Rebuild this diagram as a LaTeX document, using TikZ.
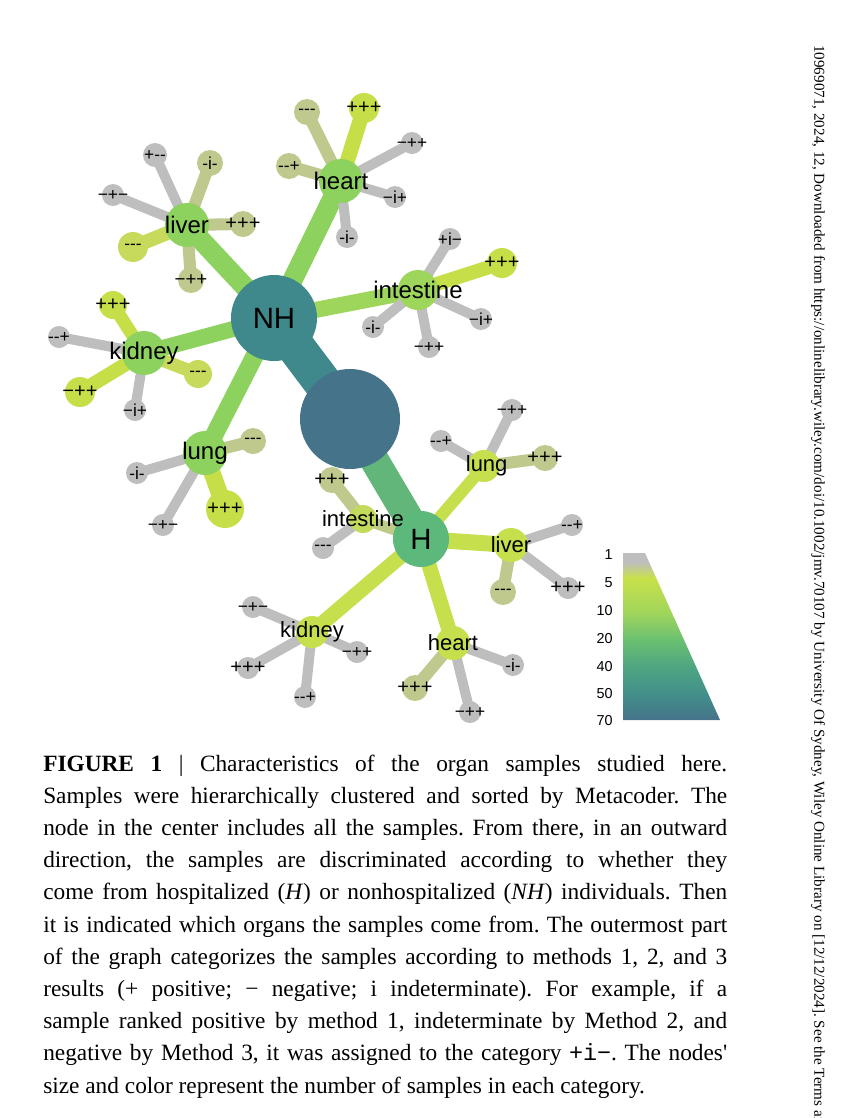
\documentclass[tikz,border=0pt]{standalone}
\usepackage{fontspec}
\setmainfont{Liberation Serif}
\setmonofont{Liberation Mono}
\newfontfamily\gfont{Liberation Sans}
\newfontfamily\capfont{Liberation Serif}
\usetikzlibrary{backgrounds}
\frenchspacing

\definecolor{cgray}{HTML}{BEBEBE}
\definecolor{ckhaki}{HTML}{C0C98D}
\definecolor{ckhakie}{HTML}{BDCA88}
\definecolor{cyg}{HTML}{C6DF48}
\definecolor{cyg2}{HTML}{C7DA5C}
\definecolor{corg}{HTML}{8DD15E}
\definecolor{cint}{HTML}{9ED65B}
\definecolor{chorg}{HTML}{C6E04D}
\definecolor{chint}{HTML}{C3DB5C}
\definecolor{cnh}{HTML}{3F898C}
\definecolor{ccenter}{HTML}{44738A}
\definecolor{ch}{HTML}{5DB87B}
\definecolor{cedgeH}{HTML}{62B67A}
\definecolor{lone}{HTML}{BEBEBE}
\definecolor{lfive}{HTML}{C8E04A}
\definecolor{lten}{HTML}{A0D55C}
\definecolor{ltwenty}{HTML}{6AC070}
\definecolor{lforty}{HTML}{4EA682}
\definecolor{lfifty}{HTML}{42908A}
\definecolor{lseventy}{HTML}{45738A}

\pgfdeclareverticalshading{legshade}{100bp}{color(0bp)=(lseventy); color(25bp)=(lseventy); color(33bp)=(lfifty); color(41bp)=(lforty); color(49bp)=(ltwenty); color(57bp)=(lten); color(67.5bp)=(lfive); color(72.3bp)=(lone); color(75bp)=(lone); color(100bp)=(lone)}

\newcommand\zl[1]{\makebox[0pt]{#1}}

\begin{document}
\begin{tikzpicture}[x=0.75pt,y=-0.75pt,
  blob/.style={circle,fill=#1,inner sep=0pt,text=black},
  link/.style={draw=#1,line cap=butt},
  bigfont/.style={font=\gfont\fontsize{22}{22}\selectfont},
  nhorg/.style={font=\gfont\fontsize{18}{18}\selectfont},
  horg/.style={font=\gfont\fontsize{16.5}{16.5}\selectfont},
  legnum/.style={font=\gfont\fontsize{10.8}{11}\selectfont,anchor=east,inner sep=0pt},
  capline/.style={anchor=base west,inner sep=0pt,font=\capfont\fontsize{17.5}{20}\selectfont}]
\useasboundingbox (0,0) rectangle (850,1118);
\begin{scope}[on background layer]
  \fill[white] (0,0) rectangle (850,1118);
\end{scope}

% root, NH, H
\node[blob=ccenter, minimum size=100*0.75pt] (root) at (350,419) {};
\node[blob=cnh, minimum size=86*0.75pt, bigfont] (NH) at (274,318) {\zl{NH}};
\node[blob=ch, minimum size=56*0.75pt, bigfont] (H) at (421,539) {\zl{H}};

% organs
\node[blob=corg, minimum size=44*0.75pt, nhorg] (nhheart) at (341,181) {\zl{heart}};
\node[blob=corg, minimum size=44*0.75pt, nhorg] (nhliver) at (187,225) {\zl{liver}};
\node[blob=cint, minimum size=40*0.75pt, nhorg] (nhint) at (418,290) {\zl{intestine}};
\node[blob=corg, minimum size=44*0.75pt, nhorg] (nhkid) at (144,353) {\zl{kidney}};
\node[blob=corg, minimum size=44*0.75pt, nhorg] (nhlung) at (205,453) {\zl{lung}};
\node[blob=chorg, minimum size=32*0.75pt, horg] (hlung) at (484,466) {\zl{\hspace{4pt}lung}};
\node[blob=chorg, minimum size=34*0.75pt, horg] (hliver) at (511,545) {\zl{liver}};
\node[blob=chint, minimum size=28*0.75pt, horg] (hint) at (363,519) {\zl{intestine}};
\node[blob=chorg, minimum size=32*0.75pt, horg] (hkid) at (312,632) {\zl{kidney}};
\node[blob=chorg, minimum size=34*0.75pt, horg] (hheart) at (453,643) {\zl{heart}};

\begin{scope}[on background layer]
  \draw[link=cnh, line width=38*0.75pt] (root.center) -- (NH.center);
  \draw[link=cedgeH, line width=29*0.75pt] (root.center) -- (H.center);
  \draw[link=corg, line width=20*0.75pt] (NH.center) -- (nhheart.center);
  \draw[link=corg, line width=20*0.75pt] (NH.center) -- (nhliver.center);
  \draw[link=cint, line width=16*0.75pt] (NH.center) -- (nhint.center);
  \draw[link=corg, line width=16*0.75pt] (NH.center) -- (nhkid.center);
  \draw[link=corg, line width=18*0.75pt] (NH.center) -- (nhlung.center);
  \draw[link=chorg, line width=12*0.75pt] (H.center) -- (hlung.center);
  \draw[link=chorg, line width=16*0.75pt] (H.center) -- (hliver.center);
  \draw[link=chorg, line width=15*0.75pt] (H.center) -- (hheart.center);
  \draw[link=chorg, line width=15*0.75pt] (H.center) -- (hkid.center);
  \draw[link=ckhakie, line width=11*0.75pt] (H.center) -- (hint.center);
\end{scope}

% leaves
\foreach \nm/\pa/\xx/\yy/\dd/\cc/\ww/\tx/\fs in {
 a1/nhheart/307/112/26/ckhaki/12/-{}-{}-/13,
 a2/nhheart/364/108/30/cyg/15/+++/15,
 a3/nhheart/412/143/22/cgray/10/−++/13,
 a4/nhheart/289/166/26/ckhaki/12/-{}-+/13,
 a5/nhheart/395/197/22/cgray/10/−i+/13,
 a6/nhheart/347/237/22/cgray/10/-i-/13,
 b1/nhliver/155/155/24/cgray/10/+-{}-/13,
 b2/nhliver/210/163/26/ckhaki/12/-i-/13,
 b3/nhliver/113/195/22/cgray/10/−+−/13,
 b4/nhliver/243/224/26/ckhaki/12/+++/15,
 b5/nhliver/133/247/30/cyg2/14/-{}-{}-/13,
 b6/nhliver/191/280/26/ckhaki/12/−++/14,
 c1/nhint/450/239/22/cgray/10/+i−/13,
 c2/nhint/502/263/30/cyg/14/+++/15,
 c3/nhint/481/319/22/cgray/10/−i+/13,
 c4/nhint/429/347/22/cgray/10/−++/13,
 c5/nhint/373/327/22/cgray/10/-i-/13,
 d1/nhkid/113/305/28/cyg/13/+++/15,
 d2/nhkid/59/337/22/cgray/10/-{}-+/13,
 d3/nhkid/198/374/28/cyg2/13/-{}-{}-/13,
 d4/nhkid/80/392/30/cyg/14/−++/15,
 d5/nhkid/135/410/22/cgray/10/−i+/13,
 e1/nhlung/253/441/26/ckhaki/12/-{}-{}-/13,
 e2/nhlung/137/473/22/cgray/10/-i-/13,
 e3/nhlung/225/509/38/cyg/17/+++/15,
 e4/nhlung/163/525/22/cgray/10/−+−/13,
 f1/hlung/512/410/22/cgray/10/−++/13,
 f2/hlung/441/441/22/cgray/10/-{}-+/13,
 f3/hlung/545/458/26/ckhaki/12/+++/15,
 g1/hliver/572/525/22/cgray/10/-{}-+/13,
 g2/hliver/568/588/22/cgray/10/+++/15,
 g3/hliver/503/592/26/ckhaki/12/-{}-{}-/13,
 i1/hint/332/480/26/ckhaki/12/+++/15,
 i2/hint/323/548/22/cgray/10/-{}-{}-/13,
 k1/hkid/253/607/22/cgray/10/−+−/13,
 k2/hkid/248/668/22/cgray/10/+++/15,
 k3/hkid/305/697/22/cgray/10/-{}-+/13,
 k4/hkid/357/652/22/cgray/10/−++/13,
 j1/hheart/415/688/26/ckhaki/12/+++/15,
 j2/hheart/513/665/22/cgray/10/-i-/13,
 j3/hheart/470/712/22/cgray/10/−++/13}
{
  \node[blob=\cc, minimum size=\dd*0.75pt, font=\gfont\fontsize{\fs}{\fs}\selectfont] (\nm) at (\xx,\yy) {\zl{\tx}};
  \begin{scope}[on background layer]
    \draw[link=\cc, line width=\ww*0.75pt] (\pa.center) -- (\nm.center);
  \end{scope}
}

% legend
\shade[shading=legshade] (623,553) -- (645,553) -- (720,720) -- (623,720) -- cycle;
\node[legnum] (n1) at (613,555) {1};
\node[legnum] (n5) at (613,583) {5};
\node[legnum] (n10) at (613,611) {10};
\node[legnum] (n20) at (613,639) {20};
\node[legnum] (n40) at (613,667) {40};
\node[legnum] (n50) at (613,694) {50};
\node[legnum] (n70) at (613,721) {70};

% caption
\node[capline] (l1) at (43,771) {\makebox[513pt][s]{\textbf{FIGURE 1} | Characteristics of the organ samples studied here.}};
\node[capline] (l2) at (43,803.2) {\makebox[513pt][s]{Samples were hierarchically clustered and sorted by Metacoder. The}};
\node[capline] (l3) at (43,835.4) {\makebox[513pt][s]{node in the center includes all the samples. From there, in an outward}};
\node[capline] (l4) at (43,867.6) {\makebox[513pt][s]{direction, the samples are discriminated according to whether they}};
\node[capline] (l5) at (43,899.8) {\makebox[513pt][s]{come from hospitalized (\textit{H}) or nonhospitalized (\textit{NH}) individuals. Then}};
\node[capline] (l6) at (43,932) {\makebox[513pt][s]{it is indicated which organs the samples come from. The outermost part}};
\node[capline] (l7) at (43,964.2) {\makebox[513pt][s]{of the graph categorizes the samples according to methods 1, 2, and 3}};
\node[capline] (l8) at (43,996.4) {\makebox[513pt][s]{results (+ positive; − negative; i indeterminate). For example, if a}};
\node[capline] (l9) at (43,1028.6) {\makebox[513pt][s]{sample ranked positive by method 1, indeterminate by Method 2, and}};
\node[capline] (l10) at (43,1060.8) {\makebox[513pt][s]{negative by Method 3, it was assigned to the category \texttt{+i−}. The nodes'}};
\node[capline] (l11) at (43,1093) {size and color represent the number of samples in each category.};

% side note
\node[rotate=-90, anchor=west, inner sep=0pt, font=\fontsize{11.35}{12}\selectfont] (side) at (818,45) {10969071, 2024, 12, Downloaded from https://onlinelibrary.wiley.com/doi/10.1002/jmv.70107 by University Of Sydney, Wiley Online Library on [12/12/2024]. See the Terms and Co};
\end{tikzpicture}
\end{document}
